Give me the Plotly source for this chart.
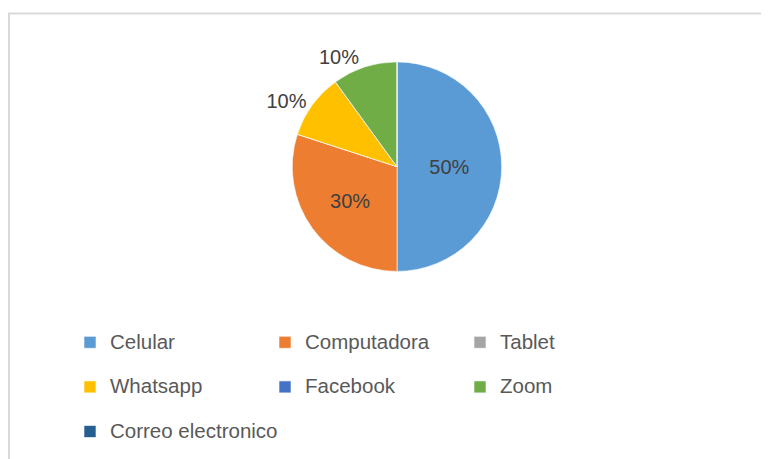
import plotly.graph_objects as go

# datos
categorias = ["Celular", "Computadora", "Tablet", "Whatsapp", "Facebook", "Zoom", "Correo electronico"]
porcentajes = [50, 30, 0, 10, 0, 10, 0]
colores = ["#5b9bd5", "#ed7d31", "#a5a5a5", "#ffc000", "#4472c4", "#70ad47", "#255e91"]

# la pagina tiene 8px de margen en body
W, H = 761, 451
TEXT = "#404040"
LEG = "#595959"

etiquetas = [f"<span style='font-size:20.5px;baseline-shift:6px'>{c}</span>" for c in categorias]
textos = [f"{v}%" if v else "" for v in porcentajes]
posiciones = ["inside" if v >= 20 else ("outside" if v else "none") for v in porcentajes]

fig = go.Figure(
    go.Pie(
        labels=etiquetas,
        values=porcentajes,
        text=textos,
        textinfo="text",
        textposition=posiciones,
        insidetextorientation="horizontal",
        textfont=dict(size=20, color=TEXT, family="Liberation Sans, Arial, sans-serif"),
        marker=dict(colors=colores, line=dict(color="rgba(255,255,255,0.6)", width=1)),
        sort=False,
        direction="clockwise",
        rotation=0,
        domain=dict(x=[284 / W, 494 / W], y=[(H - 264) / H, (H - 54) / H]),
        hoverinfo="label+percent",
    )
)

fig.update_layout(
    width=W,
    height=H,
    paper_bgcolor="white",
    plot_bgcolor="white",
    margin=dict(t=0, b=0, l=0, r=0),
    font=dict(family="Liberation Sans, Arial, sans-serif", color=LEG),
    showlegend=True,
    legend=dict(
        orientation="h",
        x=62 / W,
        xanchor="left",
        y=1 - 308 / H,
        yanchor="top",
        entrywidth=150,
        font=dict(size=32, color=LEG),
        bgcolor="rgba(0,0,0,0)",
    ),
    shapes=[
        dict(
            type="rect", xref="paper", yref="paper",
            x0=1 / W, x1=1.02, y0=-0.02, y1=1 - 5.5 / H,
            line=dict(color="#d9d9d9", width=2),
        )
    ],
)

fig.write_html("out.html")
